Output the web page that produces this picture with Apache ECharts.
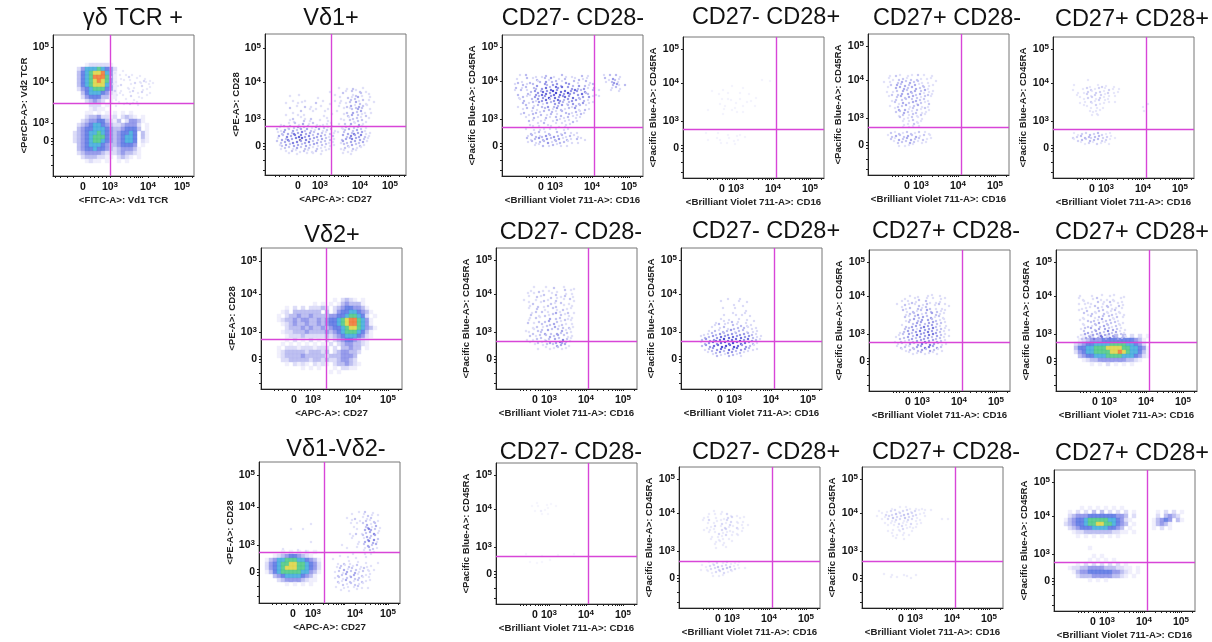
<!DOCTYPE html>
<html><head><meta charset="utf-8">
<style>html,body{margin:0;padding:0;background:#fff}#c{width:1212px;height:642px;filter:blur(0.4px)}</style>
<script src="https://cdn.jsdelivr.net/npm/echarts@6/dist/echarts.min.js"></script>
</head><body><div id="c"></div>
<script>
// Tick labels shared by all plots
const tickLabels = ['0', '10{s|3}', '10{s|4}', '10{s|5}'];
// Density estimates. "Rows": dense populations, one digit per 4x4 cell (.=empty, 1 faint ... 9 hottest).
// "Dots": sparse events, one digit per 2x3 cell.
const gdRows = ["...1222221",".2466676542",".3567889641",".3567999741",".3567898741",".3567888641",".2456777541","..356665421","..245553311","...23432.1","....222.1","....1211","...11.1.1.1.1.1","...23342212.2321.1","..2344553213.24431",".2345665432234442.1",".3455666543345553.1","2345667654345565.31","2345677754345665.31","2345677654345665.21",".345666543345554.1",".3455655432344431",".2344443222343321","..23332211.2321.1","...1211.1..1.1"];
const gdDots = ["..1...1.....","....1..1..1...1","1....1...2...1...1","..1...1..1....1.21.1",".1...2....1.2..1...1.1","...1....1..1...2...1","..2..1...1.2....1.1","1...1....1...1.2...1","...1..1...2...1...1","..1....1...1...1","....1...1..1.1","..1...1..2...1"];
const vd1Dots = ["...............................1...1..2....1","..........................1.......1..2.1.2..1....","...........1.................1...2....1...2...1","......1.............1..........1...2.1.23.1...1","........1.....1........1.....1..1....2.2.1.2..1","....1.....1.1......2......1....1..1.2..3.2..1...1","..........1...2..1....1........1...2.3.1.3.2.1","......2.........1..1.....1.......1..12.23.2...1","........1...2.....1.....1.....1....2..3.2.3.1..1","....1.....1..1.........1...1.....1.2.3..2.1.2","........2...1.1..2.......1......1...1.2.2.1...1","......1.1....2..1....1...1.......1..2.1.2.2.1","..1...1..2.1.3..1.2.1..1.1.1...1..2..3.1.3.1",".1.2.12.2.31.2.2.1.3.1.2.1.1....1.2.1.2.2.1.1","2.1.3.2.3.2.3.23.2.1.3.1.2.2.1...12.3.2.3.2.1","1.23.3.24.3.4.3.3.2.3.2.1.2.1.1..2.3.24.3.3.1.1",".3.2.4.3.4.54.3.4.2.3.3.2.1.2....3.2.4.3.34.2.1","1.3.24.3.4.65.4.3.3.2.3.2.2.1...2.3.34.3.3.2.1","2.2.3.3.4.4.3.3.4.2.3.2.2.1.1...13.2.3.3.2.3.1",".12.3.2.3.3.2.3.2.3.1.2.2.1.1....2.2.3.2.2.1","..1.2.2.1.3.2.2.2.1.2.1.1.1.....1.2.1.2.1.1","....1..2.1.1.2.1.1.2..1.1........1.1.1.1","......1...1....1..1...1..........1...1"];
const vd2Rows = ["...............1.2321.1","..........1.1.1.1343331","...1.2.2.22232.234554431","..12.3333333.3.2455665431",".1.233433433334455677652.1",".123343443343455678997641","..12343343343455678997641","...23334343343455678876431","..12233343333434567776531","...1222322222323456665421","...1.2.1.2.1.2.234554321","..1.1.1.1.1.1.2.23443321",".1.22212221222.2.33433.1",".1233333233323.2344332",".12333343333323334443","..2233333233232234432","...1.2121.2121.2334321",".......1.1.1...1.2211","..............1.1"];
const vd12Rows = ["","","","","","","","","","","....1.1.1.1.1","..1234554321","13466777665431","24567788776542","24567888776542","13567777766431","..34566665431","...2344443211",".....1.1.1.1"];
const vd12Dots = ["..............................................1..2...1","..........................................1.....1.2.1..1","........................................1...2...1.1.2...","..........................................1...1..2.1.2.1","......................1...................1..1..2.3.1.2","...........................................1.....23.1.3.1","............1.....1..........................1...3.43.2.1",".........................................1..2..1.2.3.4.1","...........................................1....2.3.2.3","..........................................1.....1.32.4.2","......................1.......................1..3.4.3.1",".....................................1.......1..2.3.2.3","........1...............................1....1...1.3.2.1","...............1...1............................1..2.1","...........................................1.....1..1","....................................1...1...1....1",".................................1.......1...","...................................1..2..1...1...1.....1","...................................1.2.1.2.1.2.1..1.1","....................................2.3.1.2.2.1.2.1..1","..................................1.2.1.3.2.3.1.2..1","...................................2.2.3.1.3.1.2.1.1","..................................1.2.1.2.3.2.2.1..1","...................................2.1.3.2.1.2.2.1.1","....................................1.2.1.2.2.1.1","..................................1...1.1..1.2.1..1",".....................................1...1...1"];
const top1Dots = ["...1..2....1..1.2...1...2.1..1....2..1.......1..2..2.1",".1....2..1.2...2.13...1..2....1.2.1.1........2.1.32.1","..2.1...2...12..3..2.2..1.3...2.1...2.1.......1..23.1","1...2.1..2.3...32..3.3.2...3.2..3..2.1.2.........2.31..2",".2..1.2...22..3.4.2..43.4..3.3..2..3.1..2........1.2.1","1..2..1.2.3..24.3.45.3.4.4..3.43.2.3...2..1.....1...1","..2....21..33.4.4.3.45.4.3.53.3.3.4.22...1","..1.2.1...3.2.33.53.4.3.34.3.4..2.3..3.1..1","...1.2...2.13.3.4.2.3.43.2.3.3.3.2.2.1","....2..1.2..3.1.3.2.3.3.2.12.3..2.3..1.1","..1...2...1.2.2..3..2.2.3..2.1.2.2..1","....1.2..2.1...2.2.1.3.2.1.2..3.1..2.1",".....2...1.2.1.2...2.1..2.2..1.2.1.1","...1...1.2...2..1.2..1.2...2.1.1.2","......1...2.1...2.1..2.1.1.2...1.1",".......2.1...1.1...1.2...1.1.2.1","........1...1..2.1...1..1.1.1",".........1..1.....1...1..1","......1...1..1.1..1..1...1.1","........2.1.2..1.2...2.1.2..1..1",".......1.2.2.12.3.2.3.2.2.1.2.1.1","......2.1.2.3.2.3.2.2.3.1.2.1..2.1.1",".......1.2.1.2.2.3.1.2.2.2.1.1..1","..........1.1.2..1.2.1.1..1"];
const top2Dots = ["...............................1...1","","................1","...........1.........1","......1.......1.....1",".........1..............1","...........1..1.....1.......1","...............1.......1.1","..........1.......1........","............1....1...1.....1","....1.......1...1..","...........1......1..1","","","","","","","...1.....1....1.....1","........1.....1...1...1","....1.....1......1.1","..........1..1...1"];
const top3Dots = ["....1..2.1...1.1..2..1...1","...1.1..2.2.1.2..2.1..1.1",".1..1...2.3.2.3.2.2.1..1...1","....2..3.2.3.2..3.1.2..1.1","...1...3.3.3.2.3.3.2.2.1","..1..1.2..3.2.3.3..2.3.1.1",".....2..2.3..3.2.2.3.1.2.1","...1...2.3.2.3.3.2.1.2..1",".....1.2..2.2..2.3.2.2.1","......2.1.3..2.3.1.2.1.2","....1...2.2.3.1.2.3.1..1","......1.3..3.1.2.2.1.2.1",".......2.2.3.2.1.2..1.1","........1.2..1.2.1.2.1",".........2.1.1.2..1.1","..........1..1.2.1.1","...........1.1..2.1","..........1..1.1..1","","....2.1.2.1.2.2.1.2..1.1","...1.2.3.2.2.3.2.3.1.2..1","....2.1.3.2.3.3.2.2.2.1.1","......1.2.2.2.3.2.1.1.1","........1..1.1.1"];
const top4Dots = ["..........1","","...1.......1...1.2.1...1","..1....1.2.2.1.2..1.2.1..1",".....1..1.2.1.2.2.1.2..1.1","....1....2.1.2..2.1.1..1","......1.1.2.2.1.2.1.1","........1..2.1.2..1.1..1","......1.1...1.2.1.1.....................1",".........1.1..1..1...................1","...........1..1.1.....................1","............1.1","............1..1","","","","","","...1.1.2.2.3.2.3.2.1.1","..2.2.3.3.32.3.3.2.2.1.1","...1.2.3.2.3.3.3.2.2.1","......1.1.2.1.2.1.1.1"];
const mid1Dots = ["......1.....1...2....1....1","....1...2.1..1...1...2..1","...1..1....2...1.2....1..1","...1...2.1....2..1.1.2...1",".1.....1...2.1...2...1..2.1","...1.2...1....2.1..2...1","....1...2..1.2...2...1...1","...1...2...1...2.1..2.1.1",".....1.2..2..1...3.1...2..1","....2...1..2.1.2...2.1.1","....1..2.1....3..2.2...1.1","...1....2..2.3...2.1.2..1","...2..1...2...2.3...2.1..1",".....1.2..1.2...3.1.2..2.1","..1...1.2.2..3.2..2.3.1.1","...1.2...2.3..2..3.2..2.1","....2..1.2..2.3.2.3..2.1.1","..1..1.2.2.1.2..3.2.4.2.1","....1...2.1.2.3..3.43.2.1","......1...1.2..2.3.3.3.1","........1...1.1.1.2.1.1"];
const mid2Dots = ["..............1.....1","..........1........1...1",".................1","...........1.....1...1",".......................1","................1.....1","............1.....1..1...1","..........1...1....1...1","........1...1.1.2..1...1...1",".......1.2..1...2.1.2..1.1","......1...1.2.1..2.2..2.1.1.1","....1..2.1.2.2.3.1.2.2.1..1.1","..1.1.2.2.3.2.3.3.2.3.3.2.2.1","1.2.2.3.3.4.3.4.4.3.4.3.3.2.1.1",".2.3.3.34.4.5.4.4.4.5.3.4.3.2.1","1.2.3.4.3.4.5.4.5.4.4.4.3.2.1",".2.3.3.4.4.5.5.4.5.4.3.3.2.1","..1.2.3.3.4.3.4.3.4.3.3.2.1.1","....1.2.2.3.2.3.3.2.2.1.1","......1.2.1.1.2.2.1.1"];
const mid3Dots = ["..........1...1....1.1...1",".......1....1.2...1..1...1.1","......1..1.2.1....2.1..1.1","...1...2.1..1.2.1.2...1.2..1.1","......1.1.2...2.1.2.2..1..1","......2.1..2.1.2..3.2..2.1.1","........1.2.2.3.1.2..3.2.1.1",".......2.1..2.2.3.2.3.1.2.1","........1.2.3.2.3..3.2.2.1.1",".........2.2.3.3.2.3.3.2.2.1","......1.2..3.3.2.4.3.3.2.1..1",".......2.2.3.1.3.3.3.4.2.2.1.1",".....1.2.3.2.3.4.3.4.3.3.2.1","....1.2..3.2.4.3.3.4.4.3.2.1.1","...1.2.2.3.3.2.3.3.3.2.2.2.1","..1..2.1.2.2.3.3.4.3.3.3.2.1","....1.2.1.3.2.3.4.3.4.3.2.1.1","...1.2.2.1.2.3.3.4.4.3.3.2","......1.1.2.2.2.3.2.3.2.1.1",".........1.1.1.2.1.1.1.1"];
const mid4Rows = ["","","","","","","","","","","...1.2.2.2.3.3.2.2.1","..12344455555555431",".234556666777766542",".3556677788887766541",".2456677778898766531","..345566677776665421","...123344444443321",".....1.1.2.1.1.1"];
const mid4Dots = ["....1.....1....1...1.1....1","...1.1....1.2.1..1..1...1","......1.1....2..1..2.1.1.1","...1..1..1.2...1.2.1...2.1",".....1.1.1...2.1..2.1.1..1","...1...2...1.2.2.1.1.2.1","......2.1.2.1...2.1.2.1.1.1",".....1...2.1.2.2..2.1.2..1","....1.1.2..2.1.3.2.2.1.1",".....1...2.2.3.1.2.2.2.1.1","......1.2.1.2.2.3.2.1.2.1","....1.2..3.2.3..3.2.3.2.1.1","......2.3.2.3.3.2.4.2.3.1.1","....1.3.2.3.3.4.3.3.3.2.2.1","...1.2.3.3.4.3.4.3.4.3.3.2.1"];
const bot1Dots = ["......1....1.1","...1..1....1...1",".....1..2.1..","........1..1","","","","","","","","","","","","","","1.......1.......1.......1","","..1.....1...1","......1"];
const bot2Dots = [".........1...1","......1..1..1..2.1..1","....1.1...1...1.2.2...1.1","...1..2...1.1..2.2..1..1","......1..1...2.1.2...1.1..1",".....1.1.2..1.2.1.1.2..1","....1..1.1...2.2.1...1.1","......1..1.2.1.1..1.1","........1..1.1.2..1..1",".......1...1.1..1","..........1.1.1...1",".........1...1","..........1....1","","","","","......1.1.2..1.2.1.1.1","...1.1.2.2.3.2.2.3.1.1","..1..1.2.2.2.3.3.2.2.1..1","......1.1.2.2.2.1.1","........1..1.1"];
const bot3Dots = ["........1...1..1.1..1..1",".1...1.2.2.1.2.2.1.2.1..1..1","...1.2..2.3.2.3.3.2.2.1.1","1...1.2.3.2.2.3.2.2.1...1","...1..2.1.2.2.1.2.2.1.1..........1..1","....1..1.1.2.1.1.2..1.1","......1..1.1.2.1.1..1","........1..1.2.1..1","......1.1...1.1...1","........1.1..1..1","..........1...1","","","","","","","","","","","","....1...1.....1.....1",".......1..1....1.1"];
const bot4Rows = ["....1.1.1.1.1.1",".1.2.2.3.3.2.2.2.1.....1.2.2.1",".234445555555443.2.....2.3432","13455677777665421.....13454.31","2345567788776543.1....13431",".23455566665543.1.....1.2.1","..12233333332211.1","...1.1.1.1.1.1","","","......1","",".......1.1","......1.1.1.1","...1.2.2.2.2.2.1",".1223344443332211.1","..134455555544321.1","...2333444443321.1","......1.1.1"];

// Tick positions on each plot's display scale (0,10^3,10^4,10^5)
const cd16Ticks = [39, 53, 90, 127];
const cd45Ticks = [111, 84, 46, 12];

const S = 141;
const panels = [
 {t:'γδ TCR +',tx:133,ty:18,l:53,tp:35,x:'<FITC-A>: Vd1 TCR',y:'<PerCP-A>: Vd2 TCR',xt:[30,57,95,129],yt:[106,88,47,12],gv:57,gh:68,ox:22,oy:30,rows:gdRows,dx:58,dy:37,dots:gdDots,fade:.6},
 {t:'Vδ1+',tx:331,ty:18,l:265,tp:34,x:'<APC-A>: CD27',y:'<PE-A>: CD28',xt:[33,55,95,125],yt:[112,85,48,14],gv:66,gh:92,dx:12,dy:54,dots:vd1Dots,fade:.85},
 {t:'Vδ2+',tx:332,ty:235,l:261,tp:248,x:'<APC-A>: CD27',y:'<PE-A>: CD28',xt:[33,52,92,127],yt:[111,84,46,13],gv:65,gh:91,ox:14,oy:52,rows:vd2Rows},
 {t:'Vδ1-Vδ2-',tx:336,ty:449,l:259,tp:462,x:'<APC-A>: CD27',y:'<PE-A>: CD28',xt:[34,54,96,129],yt:[110,83,45,13],gv:65,gh:90,ox:8,oy:50,rows:vd12Rows,dx:8,dy:50,dots:vd12Dots,fade:.8},
 {t:'CD27- CD28-',tx:573,ty:18,l:502,tp:35,gv:92,gh:92,dx:12,dy:41,dots:top1Dots},
 {t:'CD27- CD28+',tx:766,ty:17,l:683,tp:37,gv:93,gh:92,dx:17,dy:43,dots:top2Dots,fade:.3},
 {t:'CD27+ CD28-',tx:947,ty:18,l:868,tp:34,gv:93,gh:93,dx:14,dy:42,dots:top3Dots,fade:.8},
 {t:'CD27+ CD28+',tx:1132,ty:19,l:1053,tp:37,gv:93,gh:92,dx:15,dy:43,dots:top4Dots,fade:.65},
 {t:'CD27- CD28-',tx:571,ty:232,l:496,tp:248,gv:92,gh:93,dx:26,dy:40,dots:mid1Dots,fade:.85},
 {t:'CD27- CD28+',tx:766,ty:231,l:681,tp:248,gv:93,gh:93,dx:19,dy:50,dots:mid2Dots},
 {t:'CD27+ CD28-',tx:946,ty:231,l:869,tp:250,gv:93,gh:92,dx:21,dy:46,dots:mid3Dots,fade:.9},
 {t:'CD27+ CD28+',tx:1132,ty:232,l:1056,tp:250,gv:93,gh:92,ox:16,oy:46,rows:mid4Rows,dx:16,dy:46,dots:mid4Dots,fade:.85},
 {t:'CD27- CD28-',tx:571,ty:452,l:496,tp:463,gv:92,gh:93,dx:29,dy:41,dots:bot1Dots,fade:.25},
 {t:'CD27- CD28+',tx:766,ty:452,l:679,tp:467,gv:93,gh:94,dx:17,dy:45,dots:bot2Dots,fade:.55},
 {t:'CD27+ CD28-',tx:946,ty:452,l:862,tp:467,gv:93,gh:94,dx:14,dy:41,dots:bot3Dots,fade:.55},
 {t:'CD27+ CD28+',tx:1132,ty:453,l:1054,tp:470,gv:93,gh:92,ox:12,oy:38,rows:bot4Rows}
];
const heat = {1:'#ecebfb',2:'#d4d4f6',3:'#aeb0ee',4:'#7f86e6',5:'#4a68e0',6:'#2fa2d8',7:'#3cc27a',8:'#d8d034',9:'#ee6a22'};
const dotHeat = {1:'#dcdcf7',2:'#bcbcf0',3:'#9a9ae8',4:'#6e6edc',5:'#4d4dd2',6:'#7a6a9a'};
const font = '"Liberation Sans",Arial,sans-serif';

const grid=[],xAxis=[],yAxis=[],series=[],title=[];
panels.forEach((p,i)=>{
  const xt=p.xt||cd16Ticks, yt=p.yt||cd45Ticks;
  const xName=p.x||'<Brilliant Violet 711-A>: CD16', yName=p.y||'<Pacific Blue-A>: CD45RA';
  grid.push({left:p.l,top:p.tp,width:S,height:S,show:true,borderColor:'#777',borderWidth:1,backgroundColor:'#fff'});
  const dec=xt[3]-xt[2];
  const minorX=[];
  [xt[1],xt[2],xt[3]].forEach(b=>[2,3,4,5,6,7,8,9].forEach(m=>{const v=b+Math.log10(m)*dec;if(v<S)minorX.push(v);}));
  [0.25,0.4,0.55,0.7,0.85,-0.3,-0.5,-0.7,-0.85].forEach(f=>minorX.push(xt[0]+f*(xt[1]-xt[0])*(f<0?1.2:1)));
  const lab=(ticks)=>(v)=>{const k=ticks.indexOf(v);return k<0?'':tickLabels[k];};
  const rich={s:{fontSize:8,fontWeight:'bold',fontFamily:font,color:'#111',verticalAlign:'top',lineHeight:13}};
  xAxis.push({gridIndex:i,type:'value',min:0,max:S,name:xName,nameLocation:'middle',nameGap:18,
    nameTextStyle:{fontFamily:font,fontWeight:'bold',fontSize:9.7,color:'#222'},
    axisLine:{show:true,onZero:false,lineStyle:{color:'#222',width:1}},
    axisTick:{show:true,length:2,customValues:xt.concat(minorX),lineStyle:{color:'#222',width:1}},
    axisLabel:{show:true,customValues:xt,formatter:lab(xt),margin:5,hideOverlap:false,lineHeight:13,
      fontFamily:font,fontWeight:'bold',fontSize:10.5,color:'#111',rich},
    splitLine:{show:false}});
  yAxis.push({gridIndex:i,type:'value',inverse:true,min:0,max:S,name:yName,nameLocation:'middle',nameGap:p.y?23:25,nameRotate:90,
    nameTextStyle:{fontFamily:font,fontWeight:'bold',fontSize:9.6,color:'#222'},
    axisLine:{show:true,onZero:false,lineStyle:{color:'#222',width:1}},
    axisTick:{show:true,length:2,customValues:yt.concat([yt[0]-3,yt[0]+3,yt[0]+14,yt[0]+24]),lineStyle:{color:'#222',width:1}},
    axisLabel:{show:true,customValues:yt,formatter:lab(yt),margin:4,hideOverlap:false,lineHeight:13,
      fontFamily:font,fontWeight:'bold',fontSize:10.5,color:'#111',rich},
    splitLine:{show:false}});
  const cells=[];
  (p.rows||[]).forEach((row,r)=>{for(let c=0;c<row.length;c++){const d=+row[c];if(d>0)cells.push([p.ox+4*c,p.oy+4*r,d]);}});
  const dots=[];
  // each dot sits inside its 2x3 cell; the offset by column/row parity only avoids a visible lattice
  (p.dots||[]).forEach((row,r)=>{for(let c=0;c<row.length;c++){const d=+row[c];if(d>0)dots.push([p.dx+2*c+(r%2),p.dy+3*r+(c%3)-1,d]);}});
  series.push({type:'scatter',xAxisIndex:i,yAxisIndex:i,data:cells,symbol:'rect',symbolSize:4.4,silent:true,animation:false,
    itemStyle:{color:o=>heat[o.value[2]]}});
  series.push({type:'scatter',xAxisIndex:i,yAxisIndex:i,data:dots,symbol:'rect',symbolSize:2.2,silent:true,animation:false,
    itemStyle:{color:o=>dotHeat[o.value[2]],opacity:p.fade||1},
    markLine:{silent:true,animation:false,symbol:'none',label:{show:false},
      lineStyle:{color:'#d845d8',width:1.4,type:'solid'},
      data:[{xAxis:p.gv},{yAxis:p.gh}]}});
  title.push({text:p.t,left:p.tx,top:p.ty-11,textAlign:'center',padding:0,
    textStyle:{fontFamily:font,fontWeight:'normal',fontSize:23.5,color:'#111'}});
});
const chart=echarts.init(document.getElementById('c'),null,{renderer:'canvas'});
chart.setOption({animation:false,backgroundColor:'#fff',title,grid,xAxis,yAxis,series});
</script></body></html>
